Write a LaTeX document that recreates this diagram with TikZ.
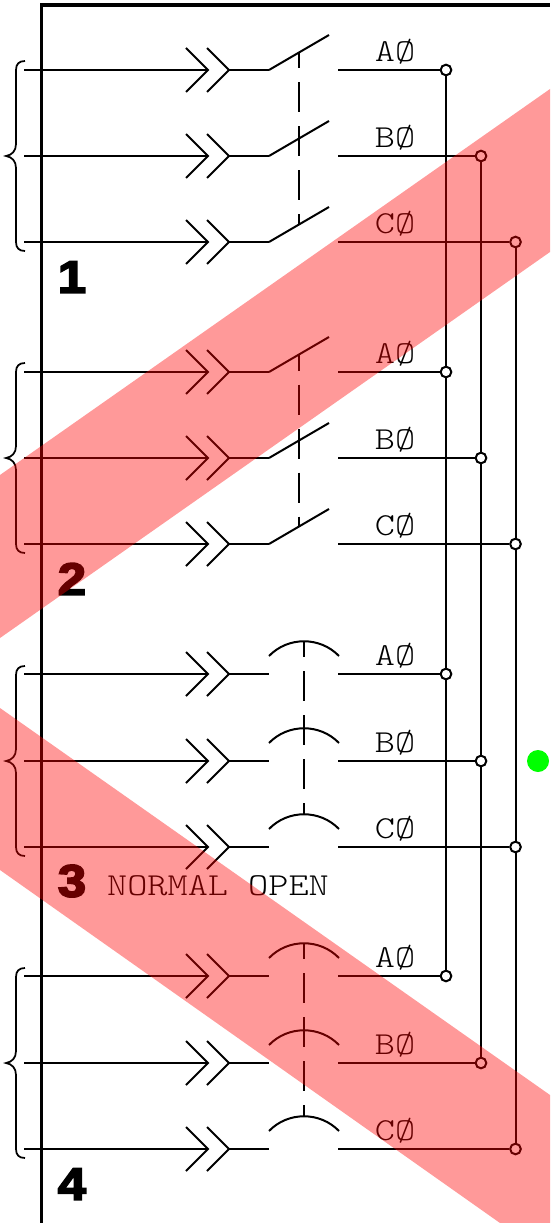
\documentclass[tikz,border=0pt]{standalone}
\usepackage{fontspec}
\usepackage{tikz}
\newfontfamily\phasefont[FakeStretch=1.2]{Latin Modern Mono Light}
\newfontfamily\groupfont[UprightFont={* Bold},FakeBold=4,FakeStretch=1.12]{Liberation Sans}
\usetikzlibrary{positioning}

\begin{document}
\begin{tikzpicture}[
    x=0.75pt,y=-0.75pt,
    wire/.style={draw, line width=1.5pt},
    frame/.style={draw, line width=2.8pt},
    junction/.style={circle, draw, line width=1.5pt, fill=white, inner sep=0pt, minimum size=8pt},
    phase/.style={font=\phasefont\fontsize{24}{24}\selectfont, inner sep=0pt},
    group/.style={font=\groupfont\fontsize{34}{34}\selectfont, inner sep=0pt},
    linkage/.style={wire, dash pattern=on 22.5pt off 10.5pt, dash phase=10.5pt},
    band/.style={fill=red, opacity=0.4}
]
    \useasboundingbox (0,0) rectangle (550,1223);

    % Panel edge
    \coordinate (panelB) at (41.5,1223);
    \coordinate (panelT) at (41.5,5);
    \coordinate (panelR) at (550,5);
    \draw[frame] (panelB) -- (panelT) -- (panelR);

    % Feeder rows
    \foreach \r/\p/\y/\bx in {a1/A/70/446,b1/B/156/481,c1/C/242/515.5,
                              a2/A/372/446,b2/B/458/481,c2/C/544/515.5,
                              a3/A/674/446,b3/B/761/481,c3/C/847/515.5,
                              a4/A/976/446,b4/B/1063/481,c4/C/1149/515.5} {
        \coordinate (in\r) at (24,\y);
        \coordinate (tipA\r) at (208,\y);
        \coordinate (tipB\r) at (229,\y);
        \coordinate (pole\r) at (269,\y);
        \coordinate (out\r) at (338,\y);
        \node[junction] (j\r) at (\bx,\y) {};
        \node[phase] (l\r) at (395,\y-18) {\p\O};
        \draw[wire] (in\r) -- (tipA\r);
        \draw[wire] (186,\y-22) -- (tipA\r) -- (186,\y+22);
        \draw[wire] (207,\y-22) -- (tipB\r) -- (207,\y+22);
        \draw[wire] (tipB\r) -- (pole\r);
        \draw[wire] (out\r) -- (j\r);
    }

    % Switch blades
    \foreach \r/\y in {a1/70,b1/156,c1/242,a2/372,b2/458,c2/544} {
        \coordinate (end\r) at (329,\y-35);
        \draw[wire] (pole\r) -- (end\r);
    }

    % Contact arcs
    \foreach \r/\y in {a3/674,b3/761,c3/847,a4/976,b4/1063,c4/1149} {
        \coordinate (arcL\r) at (269,\y-18);
        \coordinate (arcR\r) at (339,\y-18);
        \draw[wire] (arcL\r) to[bend left=46] (arcR\r);
    }

    % Linkages
    \coordinate (linkT1) at (299,52.5);
    \coordinate (linkB1) at (299,224.5);
    \coordinate (linkT2) at (299,354.5);
    \coordinate (linkB2) at (299,526.5);
    \coordinate (linkT3) at (304,641);
    \coordinate (linkB3) at (304,814);
    \coordinate (linkT4) at (304,943);
    \coordinate (linkB4) at (304,1116);
    \draw[linkage] (linkT1) -- (linkB1);
    \draw[linkage] (linkT2) -- (linkB2);
    \draw[linkage] (linkT3) -- (linkB3);
    \draw[linkage] (linkT4) -- (linkB4);

    % Bus bars
    \draw[wire] (ja1) -- (ja2);
    \draw[wire] (ja2) -- (ja3);
    \draw[wire] (ja3) -- (ja4);
    \draw[wire] (jb1) -- (jb2);
    \draw[wire] (jb2) -- (jb3);
    \draw[wire] (jb3) -- (jb4);
    \draw[wire] (jc1) -- (jc2);
    \draw[wire] (jc2) -- (jc3);
    \draw[wire] (jc3) -- (jc4);

    % Braces
    \foreach \y in {156,458,761,1063} {
        \draw[line width=1.3pt] (25,\y-95) .. controls (19,\y-95) and (16,\y-92) .. (16,\y-86)
            -- (16,\y-12) .. controls (16,\y-5) and (12,\y-1) .. (6,\y)
            .. controls (12,\y+1) and (16,\y+5) .. (16,\y+12)
            -- (16,\y+86) .. controls (16,\y+92) and (19,\y+95) .. (25,\y+95);
    }

    % Group numbers
    \node[group] (g1) at (72,277) {1};
    \node[group] (g2) at (72,579) {2};
    \node[group] (g3) at (72,881) {3};
    \node[group] (g4) at (72,1184) {4};
    \node[phase] (normal) at (218,886) {NORMAL OPEN};

    \node[circle, fill={rgb,255:red,0;green,255;blue,0}, inner sep=0pt, minimum size=16.5pt] (dot) at (538,761) {};

    % Bands
    \fill[band] (0,475) -- (550,89) -- (550,252) -- (0,638) -- cycle;
    \fill[band] (0,708) -- (550,1095) -- (550,1223) -- (500,1223) -- (0,870) -- cycle;
\end{tikzpicture}
\end{document}
